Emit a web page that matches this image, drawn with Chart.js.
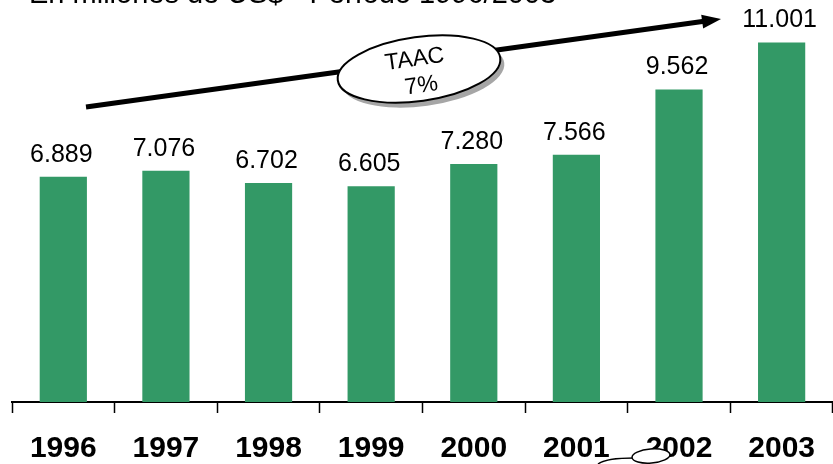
<!DOCTYPE html>
<html>
<head>
<meta charset="utf-8">
<script src="https://cdn.jsdelivr.net/npm/chart.js@4"></script>
<style>
  html, body { margin: 0; padding: 0; background: #ffffff; }
  canvas { display: block; }
</style>
</head>
<body>
<canvas id="chart" width="833" height="464"></canvas>
<script>
// Exports by year, in millions of US$
const years = ['1996', '1997', '1998', '1999', '2000', '2001', '2002', '2003'];
const exportsMUSD = [6.889, 7.076, 6.702, 6.605, 7.280, 7.566, 9.562, 11.001];
const subtitle = 'En millones de US$ - Período 1996/2003';
const growthLabel = ['TAAC', '7%'];

const FONT = '"Liberation Sans", Arial, Helvetica, sans-serif';
const BAR_GREEN = '#339966';

// Value printed above every bar
const valueLabels = {
  id: 'valueLabels',
  afterDatasetsDraw(chart) {
    const ctx = chart.ctx;
    const meta = chart.getDatasetMeta(0);
    ctx.save();
    ctx.font = '25px ' + FONT;
    ctx.fillStyle = '#000';
    ctx.textAlign = 'center';
    ctx.textBaseline = 'alphabetic';
    meta.data.forEach((bar, i) => {
      ctx.fillText(exportsMUSD[i].toFixed(3), bar.x - 2, bar.y - 15);
    });
    ctx.restore();
  }
};

// Subtitle, growth arrow with its callout, and the small callout near the axis
const annotations = {
  id: 'annotations',
  afterDraw(chart) {
    const ctx = chart.ctx;
    ctx.save();

    // subtitle (runs off the top edge)
    ctx.font = '29px ' + FONT;
    ctx.fillStyle = '#000';
    ctx.textAlign = 'left';
    ctx.textBaseline = 'alphabetic';
    ctx.fillText(subtitle, 29, 3);

    // growth arrow
    const x0 = 86, y0 = 107, x1 = 721, y1 = 19;
    const ang = Math.atan2(y1 - y0, x1 - x0);
    const headLen = 19, headHalf = 7;
    const bx = x1 - headLen * Math.cos(ang), by = y1 - headLen * Math.sin(ang);
    ctx.strokeStyle = '#000';
    ctx.lineWidth = 5;
    ctx.lineCap = 'butt';
    ctx.beginPath();
    ctx.moveTo(x0, y0);
    ctx.lineTo(bx + 2 * Math.cos(ang), by + 2 * Math.sin(ang));
    ctx.stroke();
    ctx.fillStyle = '#000';
    ctx.beginPath();
    ctx.moveTo(x1, y1);
    ctx.lineTo(bx + headHalf * Math.sin(ang), by - headHalf * Math.cos(ang));
    ctx.lineTo(bx - headHalf * Math.sin(ang), by + headHalf * Math.cos(ang));
    ctx.closePath();
    ctx.fill();

    // callout ellipse with shadow
    const cx = 419, cy = 69, rx = 82, ry = 32, rot = ang;
    ctx.fillStyle = '#a6a6a6';
    ctx.beginPath();
    ctx.ellipse(cx + 4, cy + 5, rx, ry, rot, 0, Math.PI * 2);
    ctx.fill();
    ctx.fillStyle = '#ffffff';
    ctx.strokeStyle = '#000';
    ctx.lineWidth = 2;
    ctx.beginPath();
    ctx.ellipse(cx, cy, rx, ry, rot, 0, Math.PI * 2);
    ctx.fill();
    ctx.stroke();

    ctx.translate(cx, cy);
    ctx.rotate(rot);
    ctx.fillStyle = '#000';
    ctx.font = '23px ' + FONT;
    ctx.textAlign = 'center';
    ctx.textBaseline = 'middle';
    ctx.fillText(growthLabel[0], -3, -10);
    ctx.fillText(growthLabel[1], 0, 17);
    ctx.setTransform(1, 0, 0, 1, 0, 0);

    // small callout near the axis labels
    ctx.strokeStyle = '#000';
    ctx.lineWidth = 1.5;
    ctx.beginPath();
    ctx.moveTo(598, 464);
    ctx.quadraticCurveTo(606, 458, 634, 458);
    ctx.stroke();
    ctx.fillStyle = '#ffffff';
    ctx.beginPath();
    ctx.ellipse(651, 456, 19, 7, -0.08, 0, Math.PI * 2);
    ctx.fill();
    ctx.stroke();

    ctx.restore();
  }
};

new Chart(document.getElementById('chart'), {
  type: 'bar',
  data: {
    labels: years,
    datasets: [{
      data: exportsMUSD,
      backgroundColor: BAR_GREEN,
      borderWidth: 0,
      categoryPercentage: 1,
      barPercentage: 0.46
    }]
  },
  options: {
    responsive: false,
    devicePixelRatio: 1,
    animation: false,
    layout: { padding: { left: 12, right: 0, top: 0, bottom: 0 } },
    plugins: {
      legend: { display: false },
      title: { display: false },
      tooltip: { enabled: false }
    },
    scales: {
      x: {
        afterFit(scale) { scale.height = 62; },
        grid: {
          display: true,
          offset: true,
          drawOnChartArea: false,
          drawTicks: true,
          tickLength: 11,
          tickColor: '#000',
          tickWidth: 1.5,
          color: '#000'
        },
        border: { display: true, color: '#000', width: 2 },
        ticks: {
          padding: 18,
          color: '#000',
          font: { family: FONT, size: 30, weight: 'bold' }
        }
      },
      y: {
        display: false,
        min: 0,
        max: 12.3
      }
    }
  },
  plugins: [valueLabels, annotations]
});
</script>
</body>
</html>
